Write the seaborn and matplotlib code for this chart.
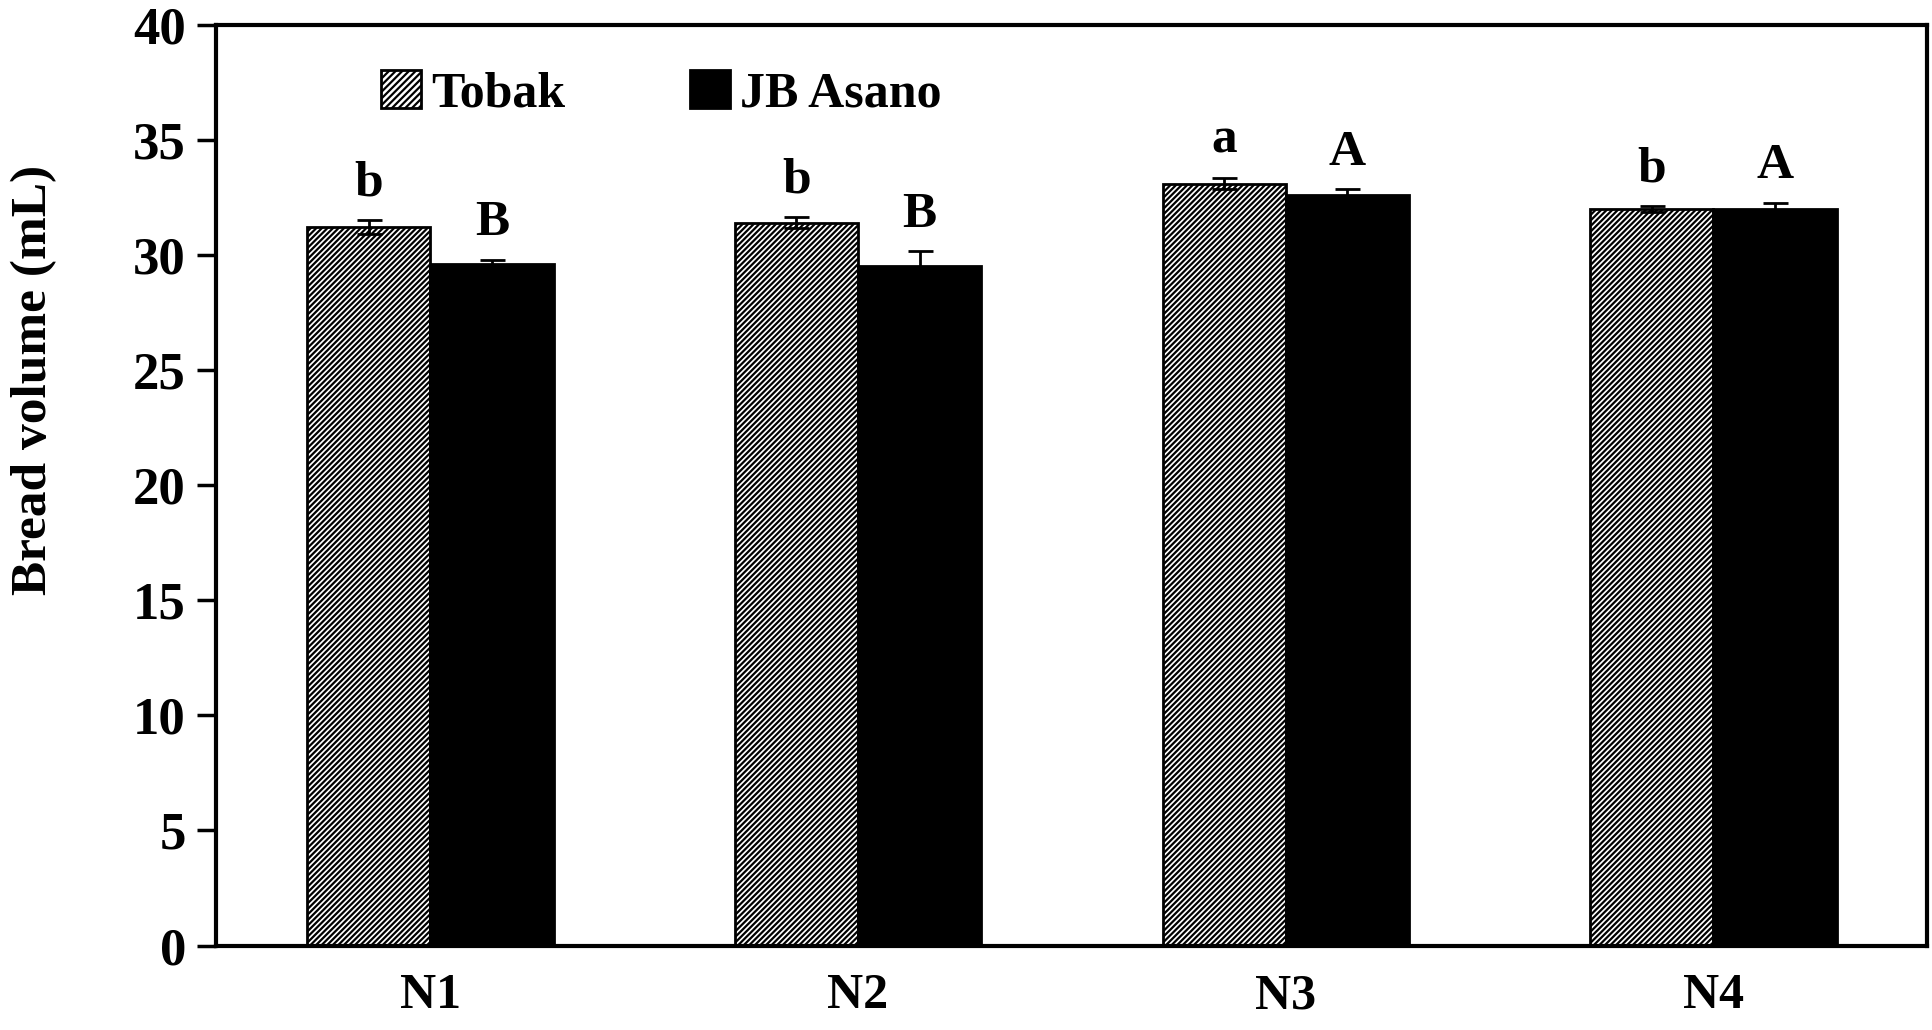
import pandas as pd
import numpy as np
import matplotlib
matplotlib.use('Agg')
import matplotlib.pyplot as plt
import seaborn as sns
from matplotlib.patches import Patch

# data
treatments = ['N1', 'N2', 'N3', 'N4']
cultivars = ['Tobak', 'JB Asano']
tobak_mean = [31.2, 31.4, 33.1, 32.0]
tobak_err = [0.3, 0.25, 0.25, 0.12]
asano_mean = [29.6, 29.5, 32.6, 32.0]
asano_err = [0.2, 0.65, 0.25, 0.25]
tobak_letters = ['b', 'b', 'a', 'b']
asano_letters = ['B', 'B', 'A', 'A']

df = pd.DataFrame({
    'Treatment': treatments * 2,
    'Cultivar': [cultivars[0]] * 4 + [cultivars[1]] * 4,
    'Volume': tobak_mean + asano_mean,
})

sns.set_theme(style='white')
plt.rcParams['font.family'] = ['Liberation Serif', 'DejaVu Serif']
plt.rcParams['font.weight'] = 'bold'
plt.rcParams['hatch.linewidth'] = 1.6
for key in ['text.color', 'axes.labelcolor', 'xtick.color', 'ytick.color']:
    plt.rcParams[key] = 'black'

fig = plt.figure(figsize=(19.33, 10.3), dpi=100)
ax = fig.add_axes([0.112, 0.082, 0.885, 0.894])

sns.barplot(data=df, x='Treatment', y='Volume', hue='Cultivar',
            palette=['white', 'black'], width=0.576, edgecolor='black',
            linewidth=2, errorbar=None, legend=False, ax=ax)

bar_groups = list(ax.containers[:2])

# hatch Tobak bars
for bar in bar_groups[0]:
    bar.set_hatch('//////')

errs = [tobak_err, asano_err]
letters = [tobak_letters, asano_letters]
means = [tobak_mean, asano_mean]
for k, cont in enumerate(bar_groups):
    for i, bar in enumerate(cont):
        xc = bar.get_x() + bar.get_width() / 2
        ax.errorbar(xc, means[k][i], yerr=errs[k][i], fmt='none', ecolor='black',
                    elinewidth=2, capsize=9, capthick=2, zorder=5)
        ax.text(xc, means[k][i] + errs[k][i] + 0.6, letters[k][i], ha='center',
                va='bottom', fontsize=37, fontweight='bold')

ax.set_ylim(0, 40)
ax.set_xlim(-0.5, 3.5)
ax.set_yticks(range(0, 41, 5))
ax.set_xlabel('')
ax.set_ylabel('Bread volume (mL)', fontsize=37, fontweight='bold')
ax.yaxis.set_label_coords(-0.093, 0.614)
ax.tick_params(axis='y', direction='out', length=14, width=2.5, labelsize=38, pad=8, left=True)
ax.tick_params(axis='x', length=0, labelsize=36, pad=20)
for lab in ax.get_xticklabels() + ax.get_yticklabels():
    lab.set_fontweight('bold')
for sp in ax.spines.values():
    sp.set_linewidth(3)
    sp.set_color('black')

handles = [Patch(facecolor='white', edgecolor='black', hatch='/////', linewidth=2),
           Patch(facecolor='black', edgecolor='black', linewidth=2)]
ax.legend(handles, cultivars, loc='upper left', bbox_to_anchor=(0.07, 1.0), ncol=2,
          frameon=False, handlelength=0.8, handleheight=0.8,
          handletextpad=0.2, columnspacing=2.5, prop={'weight': 'bold', 'size': 36})

fig.savefig('out.png', dpi=100)
